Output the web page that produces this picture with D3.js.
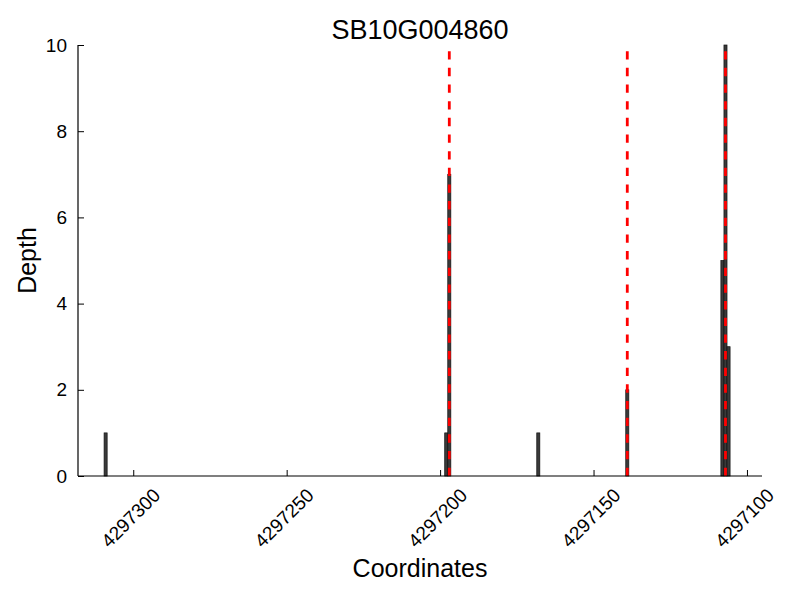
<!DOCTYPE html>
<html>
<head>
<meta charset="utf-8">
<script src="https://cdn.jsdelivr.net/npm/d3@7"></script>
<style>
  body { margin: 0; background: #fff; }
  text { font-family: "Liberation Sans", Arial, sans-serif; }
</style>
</head>
<body>
<svg class="chart"></svg>
<script>
// read depth values per coordinate
var positions = [4297309, 4297198, 4297197, 4297168, 4297139, 4297108, 4297107, 4297106];
var depths = [1, 1, 7, 1, 2, 5, 10, 3];
var markers = [4297197, 4297139, 4297107];
var xTicks = [4297300, 4297250, 4297200, 4297150, 4297100];
var yTicks = [0, 2, 4, 6, 8, 10];

var width = 800, height = 600;
var margin = { top: 45, right: 38, bottom: 124, left: 78 };

var svg = d3.select(".chart")
  .attr("width", width)
  .attr("height", height);

// x reversed: high coordinates on the left
var x = d3.scaleLinear()
  .domain([4297318, 4297095.1])
  .range([margin.left, width - margin.right]);
var y = d3.scaleLinear()
  .domain([0, 10])
  .range([height - margin.bottom, margin.top]);

var bw = Math.abs(x(0) - x(1));

// bars
svg.append("g")
  .selectAll("rect")
  .data(positions)
  .join("rect")
  .attr("x", function(d) { return x(d) - bw / 2; })
  .attr("y", function(d, i) { return y(depths[i]); })
  .attr("width", bw)
  .attr("height", function(d, i) { return y(0) - y(depths[i]); })
  .attr("fill", "#3a3a3a")
  .attr("stroke", "#111")
  .attr("stroke-width", 0.7);

// red dashed markers
svg.append("g")
  .selectAll("line")
  .data(markers)
  .join("line")
  .attr("x1", function(d) { return x(d); })
  .attr("x2", function(d) { return x(d); })
  .attr("y1", y(0))
  .attr("y2", y(10))
  .attr("stroke", "#ff0000")
  .attr("stroke-width", 2.8)
  .attr("stroke-dasharray", "8.33,8.33");

// x axis (ticks inward)
var xAxis = svg.append("g")
  .attr("transform", "translate(0," + y(0) + ")")
  .call(d3.axisBottom(x).tickValues(xTicks).tickSize(-6).tickFormat(d3.format("d")));
xAxis.select(".domain").attr("stroke", "#000").attr("stroke-width", 1.2)
  .attr("d", "M" + margin.left + ",0H" + (width - margin.right));
xAxis.selectAll(".tick line").attr("stroke", "#000");
xAxis.selectAll(".tick text")
  .attr("font-size", 19)
  .attr("fill", "#000")
  .attr("text-anchor", "middle")
  .attr("dominant-baseline", "central")
  .attr("y", null).attr("dy", null)
  .attr("transform", "translate(-3,42) rotate(-45)");

// y axis (ticks inward)
var yAxis = svg.append("g")
  .attr("transform", "translate(" + margin.left + ",0)")
  .call(d3.axisLeft(y).tickValues(yTicks).tickSize(-6).tickPadding(11));
yAxis.select(".domain").attr("stroke", "#000").attr("stroke-width", 1.2)
  .attr("d", "M0," + y(0) + "V" + y(10));
yAxis.selectAll(".tick line").attr("stroke", "#000");
yAxis.selectAll(".tick text").attr("font-size", 19).attr("fill", "#000");

// title and labels
svg.append("text")
  .attr("x", (margin.left + width - margin.right) / 2)
  .attr("y", 39)
  .attr("text-anchor", "middle")
  .attr("font-size", 27)
  .text("SB10G004860");

svg.append("text")
  .attr("x", (margin.left + width - margin.right) / 2)
  .attr("y", 577)
  .attr("text-anchor", "middle")
  .attr("font-size", 25)
  .text("Coordinates");

svg.append("text")
  .attr("transform", "translate(36," + ((margin.top + height - margin.bottom) / 2) + ") rotate(-90)")
  .attr("text-anchor", "middle")
  .attr("font-size", 25)
  .text("Depth");
</script>
</body>
</html>
